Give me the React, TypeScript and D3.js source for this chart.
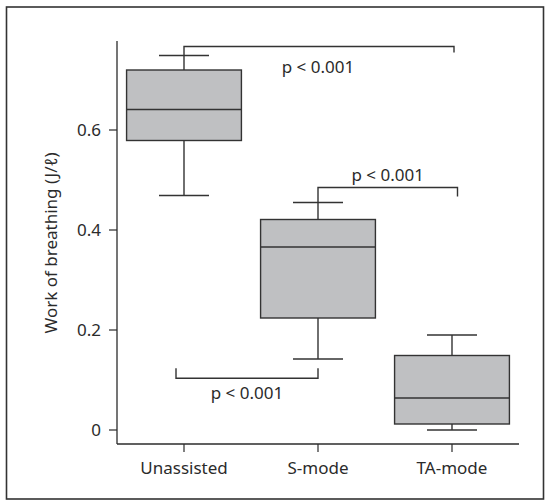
import React from "react";
import * as d3 from "d3";

const categories = ["Unassisted", "S-mode", "TA-mode"];
const whiskerLow = [0.469, 0.142, 0.0];
const q1 = [0.579, 0.224, 0.012];
const median = [0.641, 0.366, 0.064];
const q3 = [0.72, 0.421, 0.149];
const whiskerHigh = [0.749, 0.455, 0.19];
const yTicks = [0, 0.2, 0.4, 0.6];
const yLabel = "Work of breathing (J/ℓ)";

const bracketFrom = ["Unassisted", "S-mode", "Unassisted"];
const bracketTo = ["TA-mode", "TA-mode", "S-mode"];
const bracketY = [0.767, 0.485, 0.1034];
const bracketLabels = ["p < 0.001", "p < 0.001", "p < 0.001"];

const W = 550;
const H = 504;
const FONT = "'Noto Sans', sans-serif";
const INK = "#2b2b2b";

export default function App() {
  const x = d3.scaleBand<string>().domain(categories).range([117, 519]).padding(0);
  const y = d3.scaleLinear().domain([-0.028, 0.778]).range([444, 41]);
  const bw = x.bandwidth() * 0.857;
  const capHalf = 25;
  const cx = (c: string) => (x(c) as number) + x.bandwidth() / 2;

  // bracket geometry (pixel tweaks)
  const br = [
    { x1: cx(bracketFrom[0]), x2: cx(bracketTo[0]) + 2, yy: y(bracketY[0]), l1: y(whiskerHigh[0]), l2: y(bracketY[0]) + 6, lx: cx("S-mode"), ly: y(bracketY[0]) + 26 },
    { x1: cx(bracketFrom[1]) - 134 + 134, x2: cx(bracketTo[1]) + 5.5, yy: y(bracketY[1]), l1: y(whiskerHigh[1]), l2: y(bracketY[1]) + 9, lx: 0, ly: y(bracketY[1]) - 7 },
    { x1: cx(bracketFrom[2]) - 8, x2: cx(bracketTo[2]), yy: y(bracketY[2]), l1: y(bracketY[2]) - 10, l2: y(bracketY[2]) - 10, lx: 0, ly: y(bracketY[2]) + 21 },
  ];
  br[1].x1 = cx(bracketFrom[1]);
  br[1].lx = (br[1].x1 + br[1].x2) / 2;
  br[2].lx = (br[2].x1 + br[2].x2) / 2;

  return (
    <svg width={W} height={H} style={{ position: "absolute", left: 0, top: 0 }} fontFamily={FONT}>
      <rect x={0} y={0} width={W} height={H} fill="#fff" />
      <rect x={6.5} y={7} width={537} height={492} fill="none" stroke="#333" strokeWidth={1.6} />

      {/* axes */}
      <line x1={117} y1={41} x2={117} y2={444} stroke={INK} strokeWidth={1.3} />
      <line x1={117} y1={444} x2={519} y2={444} stroke={INK} strokeWidth={1.3} />
      {yTicks.map((t) => (
        <g key={t}>
          <line x1={109} x2={117} y1={y(t)} y2={y(t)} stroke={INK} strokeWidth={1.2} />
          <text x={101} y={y(t)} dy="0.36em" textAnchor="end" fontSize={17} fill={INK}>
            {String(t)}
          </text>
        </g>
      ))}
      {categories.map((c) => (
        <g key={c}>
          <line x1={cx(c)} x2={cx(c)} y1={444} y2={452} stroke={INK} strokeWidth={1.2} />
          <text x={cx(c)} y={474} textAnchor="middle" fontSize={17} fill={INK}>
            {c}
          </text>
        </g>
      ))}
      <text
        transform={`translate(56.5,${243}) rotate(-90)`}
        textAnchor="middle"
        fontSize={17}
        fill={INK}
      >
        {yLabel}
      </text>

      {/* boxes */}
      {categories.map((c, i) => {
        const m = cx(c);
        return (
          <g key={c} stroke="#333" strokeWidth={1.4}>
            <line x1={m} x2={m} y1={y(whiskerHigh[i])} y2={y(q3[i])} />
            <line x1={m} x2={m} y1={y(q1[i])} y2={y(whiskerLow[i])} />
            <line x1={m - capHalf} x2={m + capHalf} y1={y(whiskerHigh[i])} y2={y(whiskerHigh[i])} />
            <line x1={m - capHalf} x2={m + capHalf} y1={y(whiskerLow[i])} y2={y(whiskerLow[i])} />
            <rect x={m - bw / 2} y={y(q3[i])} width={bw} height={y(q1[i]) - y(q3[i])} fill="#bfc0c2" />
            <line x1={m - bw / 2} x2={m + bw / 2} y1={y(median[i])} y2={y(median[i])} />
          </g>
        );
      })}

      {/* brackets */}
      {br.map((b, i) => (
        <g key={i}>
          <path
            d={`M${b.x1},${b.l1}V${b.yy}H${b.x2}V${b.l2}`}
            fill="none"
            stroke="#333"
            strokeWidth={1.4}
          />
          <text x={b.lx} y={b.ly} textAnchor="middle" fontSize={17} fill={INK}>
            {bracketLabels[i]}
          </text>
        </g>
      ))}
    </svg>
  );
}
